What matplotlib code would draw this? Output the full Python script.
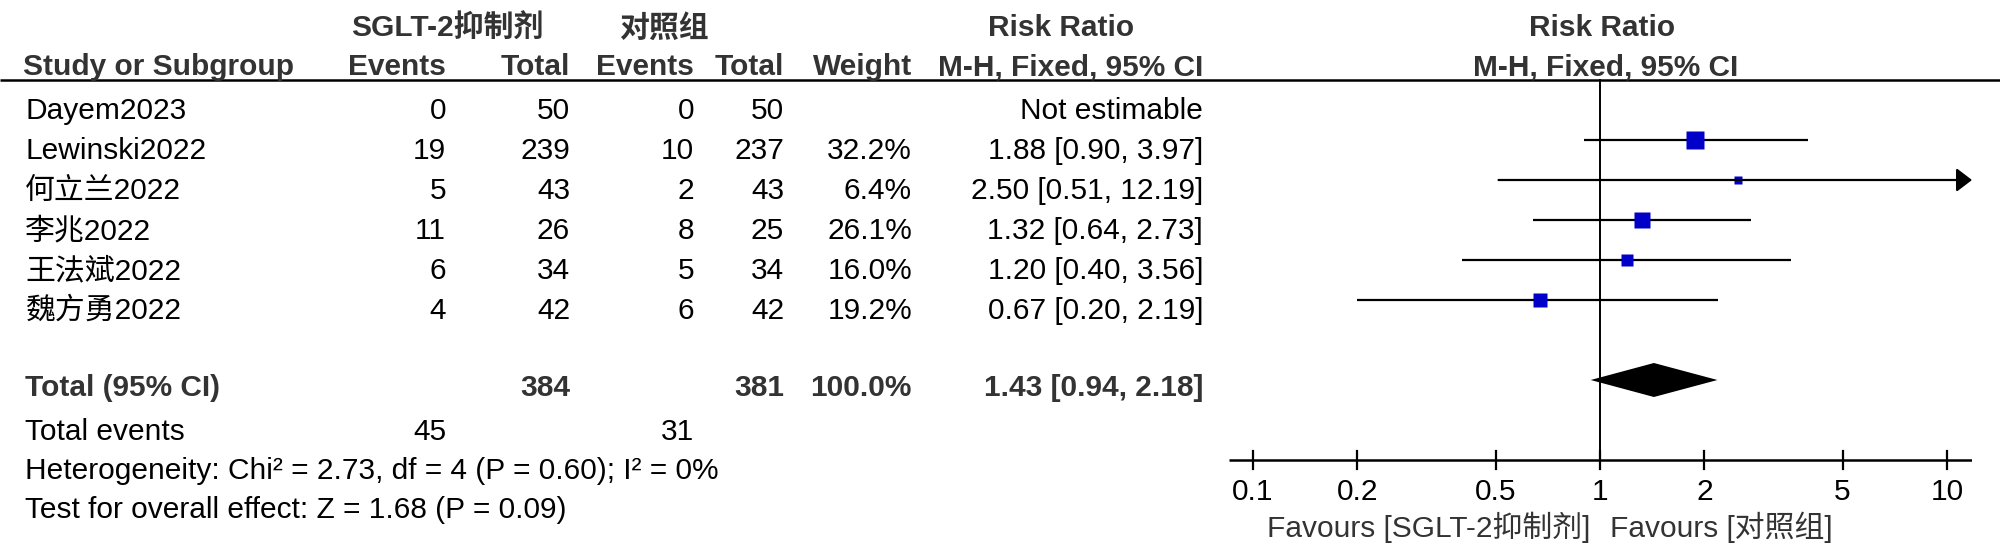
import numpy as np
import matplotlib
matplotlib.use("Agg")
import matplotlib.pyplot as plt

plt.rcParams['font.family'] = ['Liberation Sans', 'Noto Sans CJK SC', 'DejaVu Sans']

# data
studies = ["Dayem2023", "Lewinski2022", "何立兰2022", "李兆2022", "王法斌2022", "魏方勇2022"]
exp_events = [0, 19, 5, 11, 6, 4]
exp_total = [50, 239, 43, 26, 34, 42]
ctl_events = [0, 10, 2, 8, 5, 6]
ctl_total = [50, 237, 43, 25, 34, 42]
weights = [None, 32.2, 6.4, 26.1, 16.0, 19.2]
rr = [None, 1.88, 2.50, 1.32, 1.20, 0.67]
ci_lo = [None, 0.90, 0.51, 0.64, 0.40, 0.20]
ci_hi = [None, 3.97, 12.19, 2.73, 3.56, 2.19]

tot_exp, tot_ctl = 384, 381
tot_exp_events, tot_ctl_events = 45, 31
tot_rr, tot_lo, tot_hi = 1.43, 0.94, 2.18
het_text = "Heterogeneity: Chi² = 2.73, df = 4 (P = 0.60); I² = 0%"
test_text = "Test for overall effect: Z = 1.68 (P = 0.09)"
ticks = [0.1, 0.2, 0.5, 1, 2, 5, 10]
tick_labels = ["0.1", "0.2", "0.5", "1", "2", "5", "10"]

# layout (pixels)
W, H = 2000, 560
row_text_y = [111, 151, 191, 231, 271, 311]
mark_off = -11
total_y = 388
FS = 21.5
HC = '#333333'

fig = plt.figure(figsize=(20, 5.6), dpi=100)
ax = fig.add_axes([0, 0, 1, 1])
ax.set_xlim(0, W)
ax.set_ylim(H, 0)
ax.axis('off')

# headers
ax.text(447, 28, "SGLT-2抑制剂", ha='center', va='center', fontsize=FS, fontweight='bold', color=HC)
ax.text(664, 28, "对照组", ha='center', va='center', fontsize=FS, fontweight='bold', color=HC)
ax.text(1061, 28, "Risk Ratio", ha='center', va='center', fontsize=FS, fontweight='bold', color=HC)
ax.text(1602, 28, "Risk Ratio", ha='center', va='center', fontsize=FS, fontweight='bold', color=HC)
hdr = [(23, "Study or Subgroup", 'left'), (446, "Events", 'right'), (570, "Total", 'right'),
       (694, "Events", 'right'), (784, "Total", 'right'), (912, "Weight", 'right'),
       (1203, "M-H, Fixed, 95% CI", 'right'), (1606, "M-H, Fixed, 95% CI", 'center')]
for x, t, h in hdr:
    ax.text(x, 67, t, ha=h, va='center', fontsize=FS, fontweight='bold', color=HC)
ax.plot([0, W], [80, 80], color='black', lw=1.8, solid_capstyle='butt')

# study rows
for i, name in enumerate(studies):
    y = row_text_y[i]
    ax.text(25, y, name, ha='left', va='center', fontsize=FS)
    ax.text(446, y, str(exp_events[i]), ha='right', va='center', fontsize=FS)
    ax.text(570, y, str(exp_total[i]), ha='right', va='center', fontsize=FS)
    ax.text(694, y, str(ctl_events[i]), ha='right', va='center', fontsize=FS)
    ax.text(784, y, str(ctl_total[i]), ha='right', va='center', fontsize=FS)
    if rr[i] is None:
        ax.text(1203, y, "Not estimable", ha='right', va='center', fontsize=FS)
    else:
        ax.text(912, y, "%.1f%%" % weights[i], ha='right', va='center', fontsize=FS)
        ax.text(1203, y, "%.2f [%.2f, %.2f]" % (rr[i], ci_lo[i], ci_hi[i]),
                ha='right', va='center', fontsize=FS)

# totals
ax.text(25, total_y, "Total (95% CI)", ha='left', va='center', fontsize=FS, fontweight='bold', color=HC)
ax.text(570, total_y, str(tot_exp), ha='right', va='center', fontsize=FS, fontweight='bold', color=HC)
ax.text(784, total_y, str(tot_ctl), ha='right', va='center', fontsize=FS, fontweight='bold', color=HC)
ax.text(912, total_y, "100.0%", ha='right', va='center', fontsize=FS, fontweight='bold', color=HC)
ax.text(1203, total_y, "%.2f [%.2f, %.2f]" % (tot_rr, tot_lo, tot_hi),
        ha='right', va='center', fontsize=FS, fontweight='bold', color=HC)
ax.text(25, 432, "Total events", ha='left', va='center', fontsize=FS)
ax.text(446, 432, str(tot_exp_events), ha='right', va='center', fontsize=FS)
ax.text(694, 432, str(tot_ctl_events), ha='right', va='center', fontsize=FS)
ax.text(25, 471, het_text, ha='left', va='center', fontsize=FS)
ax.text(25, 510, test_text, ha='left', va='center', fontsize=FS)

# forest panel
x0, x1, xone, dec = 1229, 1972, 1600, 347.0
fa = fig.add_axes([x0 / W, 0, (x1 - x0) / W, 1])
fa.set_xscale('log')
xmin = 10 ** ((x0 - xone) / dec)
xmax = 10 ** ((x1 - xone) / dec)
fa.set_xlim(xmin, xmax)
fa.set_ylim(H, 0)
fa.axis('off')

fa.plot([1, 1], [80, 460], color='black', lw=1.4)
for i in range(len(studies)):
    if rr[i] is None:
        continue
    y = row_text_y[i] + mark_off
    side_px = 3.17 * np.sqrt(weights[i])
    if ci_hi[i] > xmax:
        fa.annotate('', xy=(xmax, y), xytext=(ci_lo[i], y),
                    arrowprops=dict(arrowstyle='-|>,head_length=0.47,head_width=0.36',
                                    color='black', lw=1.6, shrinkA=0, shrinkB=0,
                                    mutation_scale=20))
    else:
        fa.plot([ci_lo[i], ci_hi[i]], [y, y], color='black', lw=1.6, solid_capstyle='butt')
    fa.plot([rr[i]], [y], marker='s', markersize=side_px * 0.72, color='#0000C8', mec='none')

dy = total_y - 8
fa.fill([tot_lo, tot_rr, tot_hi, tot_rr], [dy, dy - 17, dy, dy + 17], color='black', lw=0)

# x axis
fa.plot([xmin, xmax], [460, 460], color='black', lw=1.8, solid_capstyle='butt')
for t, lab in zip(ticks, tick_labels):
    fa.plot([t, t], [451, 469], color='black', lw=1.6)
    fa.text(t, 492, lab, ha='center', va='center', fontsize=FS)
fa.text(0.94, 527, "Favours [SGLT-2抑制剂]", ha='right', va='center', fontsize=FS, color='#333333')
fa.text(1.07, 527, "Favours [对照组]", ha='left', va='center', fontsize=FS, color='#333333')

fig.savefig("out.png", dpi=100)
